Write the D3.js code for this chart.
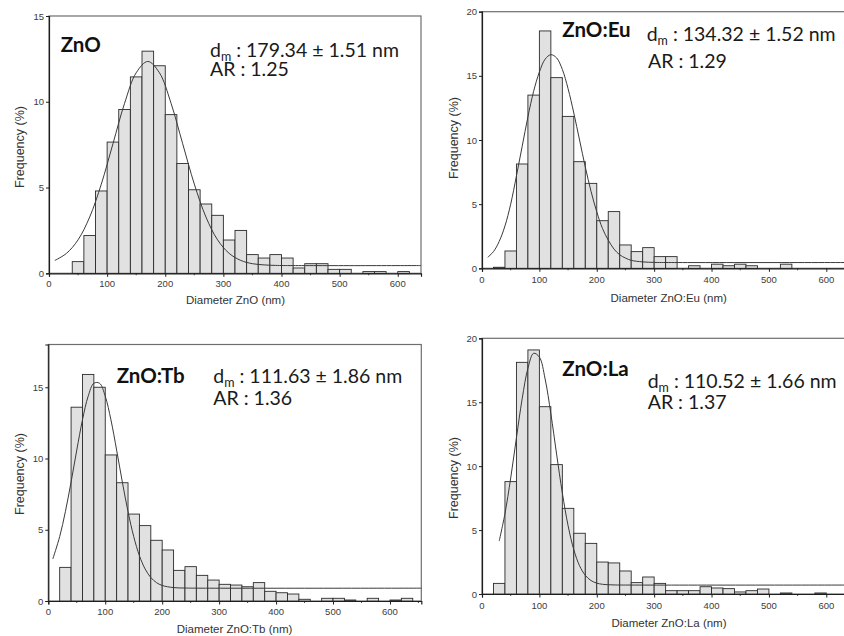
<!DOCTYPE html>
<html>
<head>
<meta charset="utf-8">
<script src="https://cdn.jsdelivr.net/npm/d3@7"></script>
<style>
  html, body { margin: 0; padding: 0; background: #fff; }
  svg { display: block; }
</style>
</head>
<body>
<svg id="chart" width="844" height="636"></svg>
<script>
// ---- Data -------------------------------------------------------------
// Lower edge of each 20 nm diameter bin (nm)
const binLower = [0,20,40,60,80,100,120,140,160,180,200,220,240,260,280,300,
                  320,340,360,380,400,420,440,460,480,500,520,540,560,580,600,620];
const binWidth = 20;

// Frequency (%) for each bin
const freqZnO = [0,0,0.68,2.2,4.8,7.65,9.55,11.45,12.95,12.1,9.25,6.4,4.87,4.04,3.38,1.94,
                 2.5,1.09,0.89,1.09,0.89,0.31,0.56,0.56,0.23,0.23,0,0.1,0.1,0,0.1,0];
const freqEu  = [0,0.08,1.35,8.13,13.5,18.5,14.86,11.84,8.31,6.62,3.71,4.42,1.82,1.3,1.61,0.91,
                 0.91,0,0.2,0,0.32,0.2,0.32,0.2,0,0,0.32,0,0,0,0,0];
const freqTb  = [0,2.36,13.6,15.9,15.0,10.25,8.3,6.1,5.29,4.26,3.58,2.15,2.41,1.8,1.47,1.17,
                 1.12,1.0,1.29,0.68,0.58,0.49,0.12,0,0.19,0.19,0.07,0,0.19,0,0.07,0.19];
const freqLa  = [0,0.83,8.79,18.12,19.09,14.65,10.12,6.7,4.75,3.96,2.5,2.43,1.8,0.89,1.33,0.83,
                 0.26,0.26,0.26,0.57,0.47,0.42,0.16,0.26,0.39,0,0.08,0,0,0.08,0,0];

// Fitted distribution curves: [diameter (nm), frequency (%)]
const fitZnO = [[10,0.75],[30,1.16],[50,1.95],[70,3.28],[90,5.2],[110,7.55],[130,9.91],[150,11.69],
                [170,12.35],[190,11.69],[210,9.91],[230,7.55],[250,5.2],[270,3.28],[290,1.95],
                [310,1.16],[330,0.75],[350,0.56],[370,0.49],[390,0.46],[420,0.45],[640,0.45]];
const fitEu  = [[10,0.86],[20,1.3],[30,2.1],[40,3.3],[50,5.0],[60,7.2],[70,9.5],[80,11.8],[90,13.8],
                [100,15.3],[110,16.3],[120,16.65],[130,16.4],[140,15.5],[150,14.0],[160,12.1],
                [170,10.0],[180,7.9],[190,6.0],[200,4.4],[210,3.1],[220,2.2],[230,1.5],[240,1.05],
                [250,0.8],[260,0.62],[280,0.5],[300,0.46],[330,0.45],[650,0.45]];
const fitTb  = [[8,2.96],[20,4.52],[30,6.27],[40,8.35],[50,10.59],[60,12.71],[70,14.37],[80,15.28],
                [90,15.28],[100,14.37],[110,12.71],[120,10.59],[130,8.35],[140,6.27],[150,4.52],
                [160,3.18],[170,2.25],[180,1.65],[190,1.29],[200,1.09],[220,0.94],[240,0.91],
                [270,0.9],[655,0.9]];
const fitLa  = [[30,4.14],[40,6.29],[50,9.07],[60,12.22],[70,15.27],[80,17.65],[90,18.83],
                [100,18.53],[110,16.82],[120,14.1],[130,10.94],[140,7.9],[150,5.35],[160,3.46],
                [170,2.21],[180,1.46],[190,1.05],[200,0.85],[210,0.76],[230,0.71],[260,0.7],[650,0.7]];

// Sample labels and fitted statistics
const sampleNames  = ["ZnO", "ZnO:Eu", "ZnO:Tb", "ZnO:La"];
const meanDiameter = ["179.34", "134.32", "111.63", "110.52"];
const meanError    = ["1.51", "1.52", "1.86", "1.66"];
const aspectRatio  = ["1.25", "1.29", "1.36", "1.37"];

// Axis extents and tick values
const xMax   = [640, 650, 655, 650];
const yMax   = [15, 20, 18, 20];
const xTicks = [0, 100, 200, 300, 400, 500, 600];
const yTicks = [[0,5,10,15], [0,5,10,15,20], [0,5,10,15], [0,5,10,15,20]];

const freqs = [freqZnO, freqEu, freqTb, freqLa];
const fits  = [fitZnO, fitEu, fitTb, fitLa];

// ---- Layout (pixel geometry of each panel) ----------------------------
const layout = [
  { x0: 49,   x1: 421, yBot: 273.3, yTop: 16,
    name: [60.7, 52.3], l1: [210, 57.3], l2: [210, 76],
    yTitle: [20, 147], xTitle: [235.5, 304], tickBase: 286.5 },
  { x0: 482,  x1: 855, yBot: 268.3, yTop: 11.7,
    name: [562.3, 37.3], l1: [646.7, 40.5], l2: [648, 68.3],
    yTitle: [453.7, 138], xTitle: [668.7, 301.5], tickBase: 282.7 },
  { x0: 48.3, x1: 421.3, yBot: 601, yTop: 344.5,
    name: [116.7, 382.7], l1: [213.3, 383], l2: [213.3, 405.3],
    yTitle: [20, 474], xTitle: [234.5, 633], tickBase: 615 },
  { x0: 482,  x1: 855, yBot: 594, yTop: 338.3,
    name: [562.3, 375.7], l1: [647.7, 388.3], l2: [647.7, 409.3],
    yTitle: [453.7, 478], xTitle: [669, 627], tickBase: 608.5 }
];

const svg = d3.select("#chart");
const tickFont = "'Liberation Sans', Arial, sans-serif";
const statFont = "Lato, 'Open Sans', sans-serif";

sampleNames.forEach((name, i) => {
  const L = layout[i];
  const x = d3.scaleLinear().domain([0, xMax[i]]).range([L.x0, L.x1]);
  const y = d3.scaleLinear().domain([0, yMax[i]]).range([L.yBot, L.yTop]);
  const g = svg.append("g");

  // plot frame
  g.append("rect")
    .attr("x", L.x0).attr("y", L.yTop)
    .attr("width", L.x1 - L.x0).attr("height", L.yBot - L.yTop)
    .attr("fill", "none").attr("stroke", "#6e6e6e").attr("stroke-width", 1.2);

  // histogram bars
  const bars = binLower.map((b, k) => ({ lo: b, v: freqs[i][k] || 0 })).filter(d => d.v > 0);
  g.selectAll("rect.bar").data(bars).join("rect")
    .attr("class", "bar")
    .attr("x", d => x(d.lo))
    .attr("width", d => x(d.lo + binWidth) - x(d.lo))
    .attr("y", d => y(d.v))
    .attr("height", d => y(0) - y(d.v))
    .attr("fill", "#e1e1e1")
    .attr("stroke", "#2b2b2b")
    .attr("stroke-width", 0.9);

  // fitted curve
  const line = d3.line()
    .x(d => x(d[0])).y(d => y(d[1]))
    .curve(d3.curveCatmullRom.alpha(0.5));
  g.append("path").datum(fits[i])
    .attr("d", line)
    .attr("fill", "none").attr("stroke", "#3a3a3a").attr("stroke-width", 1);

  // x axis
  const xAxis = d3.axisBottom(x).tickValues(xTicks).tickSize(3.5).tickPadding(3)
    .tickFormat(d3.format("d"));
  const gx = g.append("g").attr("transform", `translate(0,${L.yBot})`).call(xAxis);
  gx.select(".domain").attr("stroke", "#1e1e1e").attr("stroke-width", 1.2);
  gx.selectAll(".tick line").attr("stroke", "#1e1e1e");
  gx.selectAll(".tick text").remove();
  g.selectAll("text.xt").data(xTicks).join("text")
    .attr("class", "xt")
    .attr("x", d => x(d)).attr("y", L.tickBase)
    .attr("text-anchor", "middle")
    .attr("font-family", tickFont).attr("font-size", 9.5).attr("fill", "#3c3c3c")
    .text(d => d);
  // minor ticks halfway between labelled ticks
  const minor = xTicks.map(t => t + 50).filter(t => t < xMax[i]);
  g.selectAll("line.minor").data(minor).join("line")
    .attr("class", "minor")
    .attr("x1", d => x(d)).attr("x2", d => x(d))
    .attr("y1", L.yBot).attr("y2", L.yBot + 2)
    .attr("stroke", "#1e1e1e").attr("stroke-width", 0.8);

  // y axis
  const yAxis = d3.axisLeft(y).tickValues(yTicks[i]).tickSize(3).tickPadding(2)
    .tickFormat(d3.format("d"));
  const gy = g.append("g").attr("transform", `translate(${L.x0},0)`).call(yAxis);
  gy.select(".domain").attr("stroke", "#1e1e1e").attr("stroke-width", 1.2);
  gy.selectAll(".tick line").attr("stroke", "#1e1e1e");
  gy.selectAll(".tick text")
    .attr("font-family", tickFont).attr("font-size", 9.5).attr("fill", "#3c3c3c");

  // axis titles
  g.append("text")
    .attr("transform", `translate(${L.yTitle[0]},${L.yTitle[1]}) rotate(-90)`)
    .attr("dy", "0.35em")
    .attr("text-anchor", "middle")
    .attr("font-family", tickFont).attr("font-size", 12.5).attr("fill", "#333")
    .text("Frequency (%)");
  g.append("text")
    .attr("x", L.xTitle[0]).attr("y", L.xTitle[1])
    .attr("text-anchor", "middle")
    .attr("font-family", tickFont).attr("font-size", 11.5).attr("fill", "#333")
    .text(`Diameter ${name} (nm)`);

  // sample name
  g.append("text")
    .attr("x", L.name[0]).attr("y", L.name[1])
    .attr("font-family", statFont).attr("font-weight", 700).attr("font-size", 20.5)
    .attr("fill", "#111")
    .text(name);

  // mean diameter and aspect ratio
  const t1 = g.append("text")
    .attr("x", L.l1[0]).attr("y", L.l1[1])
    .attr("font-family", statFont).attr("font-size", 19.5).attr("fill", "#1a1a1a");
  t1.append("tspan").text("d");
  t1.append("tspan").attr("font-size", 12.5).attr("dy", 4).text("m");
  t1.append("tspan").attr("dy", -4).text(` : ${meanDiameter[i]} \u00B1 ${meanError[i]} nm`);

  g.append("text")
    .attr("x", L.l2[0]).attr("y", L.l2[1])
    .attr("font-family", statFont).attr("font-size", 19.5).attr("fill", "#1a1a1a")
    .text(`AR : ${aspectRatio[i]}`);
});
</script>
</body>
</html>
